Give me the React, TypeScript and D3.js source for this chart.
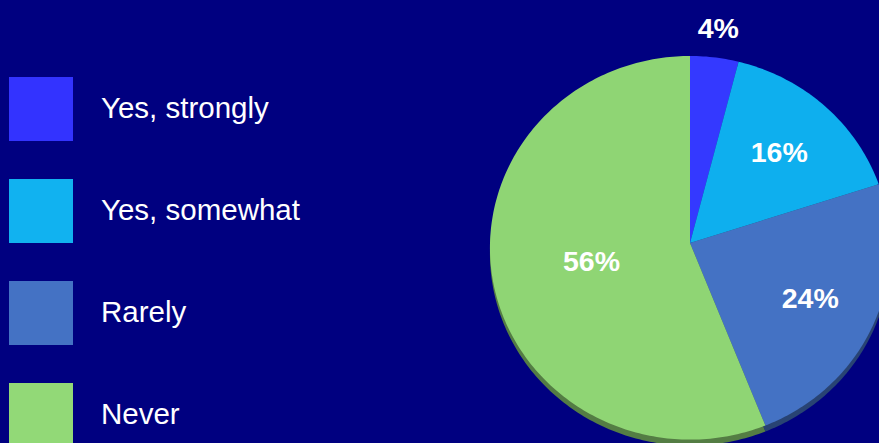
import React, { useEffect } from "react";
import * as d3 from "d3";

const categories = ["Yes, strongly", "Yes, somewhat", "Rarely", "Never"];
const values = [4, 16, 24, 56];
const labels = ["4%", "16%", "24%", "56%"];
const colors = ["#3439FF", "#0EAFEE", "#4472C4", "#8FD574"];
const legendColors = ["#3333FF", "#11B2F0", "#4472C4", "#92D977"];

const W = 879;
const H = 443;
const BG = "#000080";

// pie geometry (a slightly tilted disc seen in perspective)
const cx = 690;
const cy = 243;
const R = 200;
const RK = 191.7;
const P = 0.025;
const THICK = 6;

function proj(theta: number, rr: number): [number, number] {
  const d = 1 + P * rr * Math.cos(theta);
  return [cx + (R * rr * Math.sin(theta)) / d, cy - (RK * rr * Math.cos(theta)) / d];
}

function slicePath(a0: number, a1: number, dy: number): string {
  const n = Math.max(2, Math.ceil(((a1 - a0) * 180) / Math.PI));
  const pts: [number, number][] = [[cx, cy + dy]];
  for (let i = 0; i <= n; i++) {
    const t = a0 + ((a1 - a0) * i) / n;
    const [x, y] = proj(t, 1);
    pts.push([x, y + dy]);
  }
  return (d3.line()(pts) || "") + "Z";
}

function labelRadius(v: number): number {
  if (v < 5) return 1.165;
  if (v > 50) return 0.5;
  return 0.66;
}

export default function App() {
  useEffect(() => {
    document.body.style.margin = "0";
  }, []);

  const arcs = d3.pie<number>().sort(null).value((d) => d)(values);
  const legendY = d3.scaleLinear().domain([0, categories.length - 1]).range([77, 383]);

  return (
    <svg width={W} height={H} style={{ position: "absolute", left: 0, top: 0, display: "block" }}>
      <rect x={0} y={0} width={W} height={H} fill={BG} />

      {/* legend */}
      {categories.map((c, i) => (
        <g key={c}>
          <rect x={9} y={legendY(i)} width={64} height={64} fill={legendColors[i]} />
          <text
            x={101}
            y={legendY(i) + 41}
            fill="#FFFFFF"
            fontFamily="'Liberation Sans', Arial, sans-serif"
            fontSize={29.5}
          >
            {c}
          </text>
        </g>
      ))}

      {/* side (thickness) */}
      {arcs.map((a, i) => (
        <path
          key={"s" + i}
          d={slicePath(a.startAngle, a.endAngle, THICK)}
          fill={d3.color(colors[i])!.darker(1.5).formatHex()}
        />
      ))}

      {/* top faces */}
      {arcs.map((a, i) => (
        <path key={"f" + i} d={slicePath(a.startAngle, a.endAngle, 0)} fill={colors[i]} />
      ))}

      {/* labels */}
      {arcs.map((a, i) => {
        const mid = (a.startAngle + a.endAngle) / 2;
        const [x, y] = proj(mid, labelRadius(values[i]));
        return (
          <text
            key={"l" + i}
            x={x}
            y={y}
            dy="0.36em"
            textAnchor="middle"
            fill="#FFFFFF"
            fontFamily="'Liberation Sans', Arial, sans-serif"
            fontWeight="bold"
            fontSize={28.5}
          >
            {labels[i]}
          </text>
        );
      })}
    </svg>
  );
}
